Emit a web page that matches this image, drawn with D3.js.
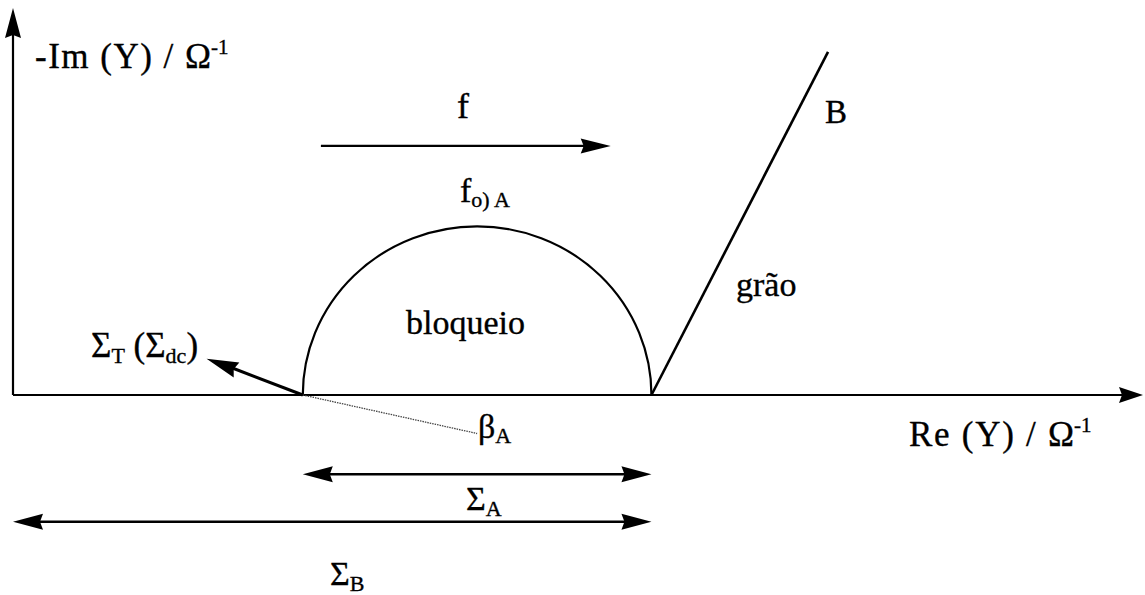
<!DOCTYPE html>
<html>
<head>
<meta charset="utf-8">
<script src="https://cdn.jsdelivr.net/npm/d3@7"></script>
<style>
  html, body { margin: 0; padding: 0; background: #fff; }
  svg { display: block; }
</style>
</head>
<body>
<svg id="chart" width="1145" height="595"></svg>
<script>
// Admittance plane (schematic units): Re(Y) horizontal, -Im(Y) vertical
const reDomain = [0, 100];
const imDomain = [0, 34];

// Conductance limits on the real axis
const sigmaT = [25.6];          // Σ_T (Σ_dc): low-frequency intercept
const sigmaB = [56.4];          // Σ_B: end of the blocking arc
// Blocking arc height (frequency maximum f0)A)
const arcHeight = [14.9];
// Grain branch "B": straight line leaving Σ_B
const grainEnd = [72.0, 30.3];
// Frequency-direction arrow "f"
const freqArrow = [27.2, 52.8, 22.0];
// Σ_T arrow tip, β_A guide end
const sigmaTTip = [17.1, 3.2];
const betaEnd = [41.0, -3.4];
// Dimension arrows (levels below the axis)
const dimA = [-7.0];
const dimB = [-11.2];

const FONT = '"Liberation Serif"';

const svg = d3.select("#chart");
const x = d3.scaleLinear().domain(reDomain).range([13, 1145]);
const y = d3.scaleLinear().domain(imDomain).range([395, 10]);

// filled arrowhead at (tx,ty) pointing away from (fx,fy)
function arrowHead(g, fx, fy, tx, ty, len, half) {
  const a = Math.atan2(ty - fy, tx - fx);
  const c = Math.cos(a), s = Math.sin(a);
  const bx = tx - len * c, by = ty - len * s;
  const nx = -s * half, ny = c * half;
  g.append("path")
    .attr("d", `M${tx},${ty}L${bx + nx},${by + ny}L${bx + 3 * c},${by + 3 * s}L${bx - nx},${by - ny}Z`)
    .attr("fill", "#000");
}
function line(g, x1, y1, x2, y2, w) {
  return g.append("line").attr("x1", x1).attr("y1", y1).attr("x2", x2).attr("y2", y2)
    .attr("stroke", "#000").attr("stroke-width", w);
}

const g = svg.append("g");

// Axes
line(g, x(0), y(0), x(0), y(imDomain[1]) + 20, 2.2);
arrowHead(g, x(0), y(0), x(0), y(imDomain[1]) - 2, 30, 8);
line(g, x(0), y(0), x(reDomain[1]) - 20, y(0), 2.2);
arrowHead(g, x(0), y(0), x(reDomain[1]) - 2, y(0), 24, 8);

// Blocking arc from Σ_T to Σ_B
const cx = (sigmaT[0] + sigmaB[0]) / 2;
const rx = x(sigmaB[0]) - x(cx);
const ry = y(0) - y(arcHeight[0]);
g.append("path")
  .attr("d", `M${x(sigmaT[0])},${y(0)}A${rx},${ry} 0 0 1 ${x(sigmaB[0])},${y(0)}`)
  .attr("fill", "none").attr("stroke", "#000").attr("stroke-width", 2.2);

// Grain branch
line(g, x(sigmaB[0]), y(0), x(grainEnd[0]), y(grainEnd[1]), 2.6);

// Frequency arrow
line(g, x(freqArrow[0]), y(freqArrow[2]), x(freqArrow[1]) - 20, y(freqArrow[2]), 2.4);
arrowHead(g, x(freqArrow[0]), y(freqArrow[2]), x(freqArrow[1]), y(freqArrow[2]), 30, 7.5);

// Σ_T arrow
line(g, x(sigmaT[0]), y(0), x(sigmaTTip[0]) + 20, y(sigmaTTip[1]) + 7, 3);
arrowHead(g, x(sigmaT[0]), y(0), x(sigmaTTip[0]), y(sigmaTTip[1]), 32, 8);

// β_A guide (dotted)
g.append("line")
  .attr("x1", x(sigmaT[0])).attr("y1", y(0)).attr("x2", x(betaEnd[0])).attr("y2", y(betaEnd[1]))
  .attr("stroke", "#444").attr("stroke-width", 1.3).attr("stroke-dasharray", "1.5,1");

// Dimension arrows Σ_A and Σ_B
function dimArrow(x0, x1, level) {
  line(g, x(x0) + 20, y(level), x(x1) - 20, y(level), 2.4);
  arrowHead(g, x(x1), y(level), x(x0), y(level), 30, 8);
  arrowHead(g, x(x0), y(level), x(x1), y(level), 30, 8);
}
dimArrow(sigmaT[0], sigmaB[0], dimA[0]);
dimArrow(0, sigmaB[0], dimB[0]);

// Labels: each run (base text, sub- or superscript) is its own <text>,
// placed after the width of the previous run
function label(px, py, size, parts) {
  let cur = px;
  parts.forEach(p => {
    const t = g.append("text")
      .attr("x", cur).attr("y", py + (p.dy || 0))
      .style("font-family", FONT)
      .attr("font-size", p.sub || size)
      .attr("fill", "#000")
      .attr("stroke", "#000").attr("stroke-width", 0.35)
      .text(p.t);
    if (p.len) t.attr("textLength", p.len).attr("lengthAdjust", "spacing");
    cur += (p.len || t.node().getComputedTextLength()) + (p.gap || 0);
  });
}
label(35, 68, 35, [{ t: "-Im (Y) / Ω", len: 176 }, { t: "-1", sub: 21, dy: -14 }]);
label(909, 446, 35, [{ t: "Re (Y) / Ω", len: 165 }, { t: "-1", sub: 21, dy: -14 }]);
label(457, 118, 36, [{ t: "f" }]);
label(825, 123, 33, [{ t: "B" }]);
label(460, 202, 34, [{ t: "f" }, { t: "o) A", sub: 22, dy: 5 }]);
label(406, 334, 34, [{ t: "bloqueio" }]);
label(736, 296, 34, [{ t: "grão" }]);
label(91, 357, 35, [{ t: "Σ" }, { t: "T", sub: 22, dy: 6 }, { t: "\u00a0(Σ" }, { t: "dc", sub: 22, dy: 6 }, { t: ")" }]);
label(478, 438, 34, [{ t: "β" }, { t: "A", sub: 22, dy: 5 }]);
label(466, 510, 34, [{ t: "Σ" }, { t: "A", sub: 22, dy: 6 }]);
label(330, 585, 34, [{ t: "Σ" }, { t: "B", sub: 22, dy: 6 }]);
</script>
</body>
</html>
